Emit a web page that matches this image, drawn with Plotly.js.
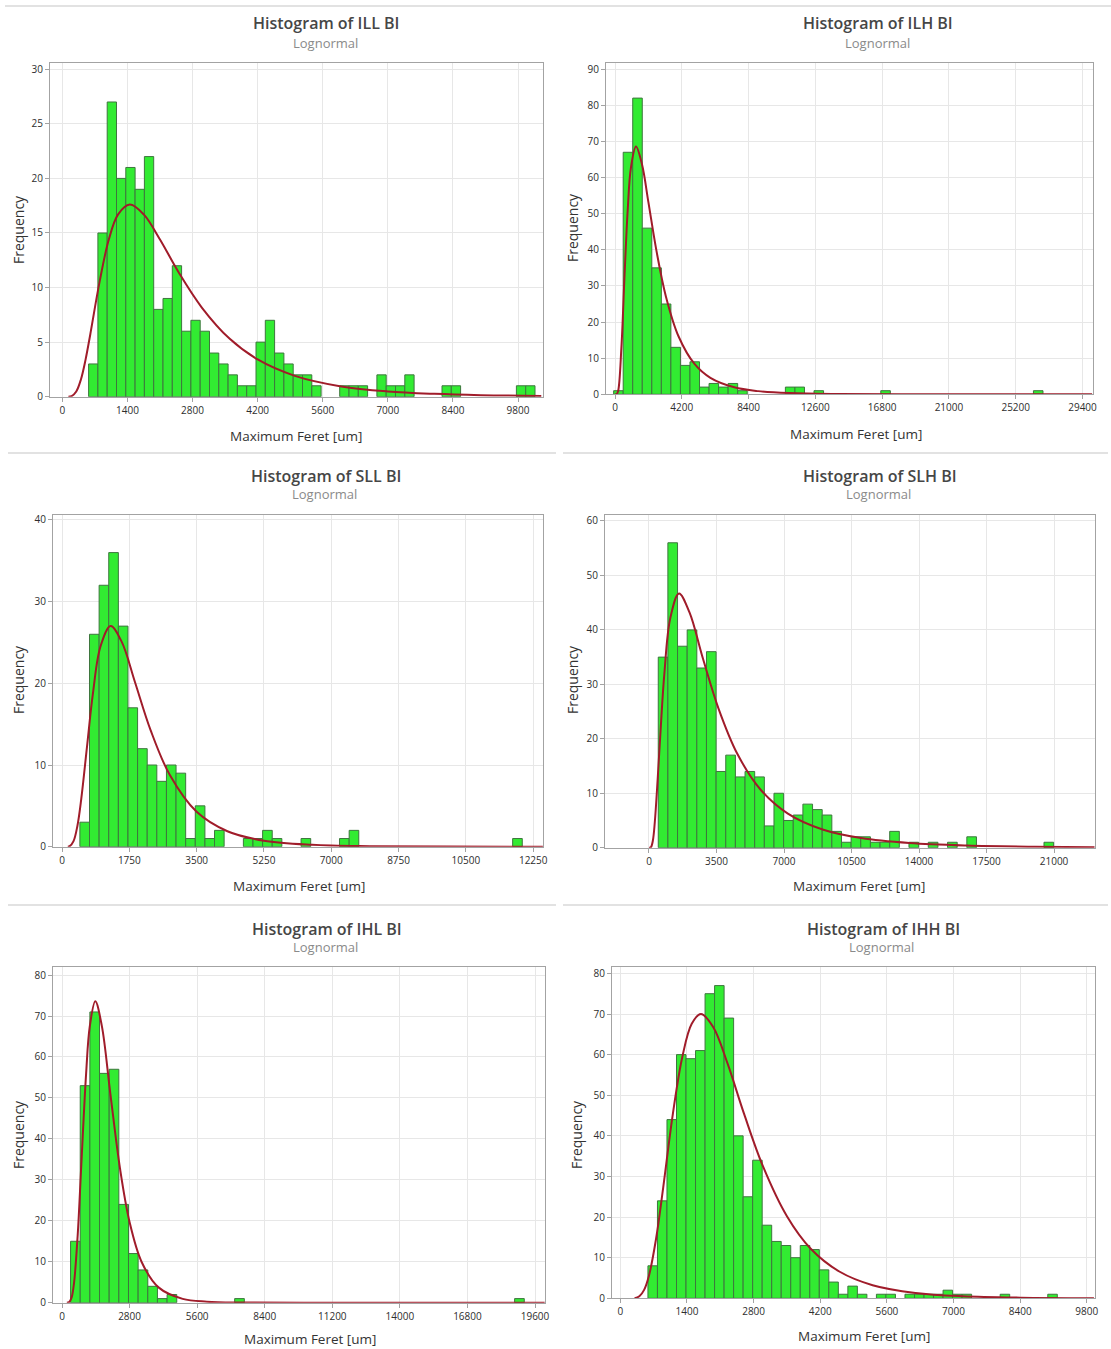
<!DOCTYPE html>
<html>
<head>
<meta charset="utf-8">
<script src="https://cdn.plot.ly/plotly-3.0.1.min.js"></script>
<style>
html,body{margin:0;padding:0;background:#ffffff;}
#chart{width:1111px;height:1349px;}
</style>
</head>
<body>
<div id="chart"></div>
<script>
// ---------------- DATA ----------------
const panelTitles = ["Histogram of ILL BI", "Histogram of ILH BI", "Histogram of SLL BI",
                     "Histogram of SLH BI", "Histogram of IHL BI", "Histogram of IHH BI"];
const subtitleText = "Lognormal";
const xAxisLabel = "Maximum Feret [um]";
const yAxisLabel = "Frequency";

// ILL BI
const illBinStart = 565, illBinWidth = 200;
const illCounts = [3,15,27,20,21,19,22,8,9,12,6,7,6,4,3,2,1,1,5,7,4,3,2,2,1,0,0,1,1,1,0,2,1,1,2,0,0,0,1,1,0,0,0,0,0,0,1,1];
const illCurveX = [130,200,300,400,500,600,800,1000,1200,1450,1750,2100,2500,3000,3600,4200,5000,6000,7000,8000,9000,10300];
const illCurveY = [0,0.06,0.48,1.58,3.4,5.68,10.5,14.4,16.7,17.6,16.7,14.4,11.4,8.17,5.3,3.41,1.91,0.94,0.48,0.26,0.14,0.07];
const illXTicks = [0,1400,2800,4200,5600,7000,8400,9800];
const illYTicks = [0,5,10,15,20,25,30];

// ILH BI
const ilhBinStart = -85, ilhBinWidth = 600;
const ilhCounts = [1,67,82,46,35,25,13,8,9,2,3,2,3,1,0,0,0,0,2,2,0,1,0,0,0,0,0,0,1,0,0,0,0,0,0,0,0,0,0,0,0,0,0,0,1];
const ilhCurveX = [0,100,200,400,600,800,1000,1320,1700,2100,2600,3200,4000,5000,6000,7500,9000,11000,14000,18000,24000,30000];
const ilhCurveY = [0,0.03,1.0,12.7,32.9,51.1,62.7,68.6,63.6,53.2,39.9,27.1,16.0,8.4,4.55,1.93,0.88,0.34,0.09,0.02,0,0];
const ilhXTicks = [0,4200,8400,12600,16800,21000,25200,29400];
const ilhYTicks = [0,10,20,30,40,50,60,70,80,90];

// SLL BI
const sllBinStart = 465, sllBinWidth = 250;
const sllCounts = [3,26,32,36,27,17,12,10,8,10,9,1,5,1,2,0,0,1,1,2,1,0,0,1,0,0,0,1,2,0,0,0,0,0,0,0,0,0,0,0,0,0,0,0,0,1];
const sllCurveX = [150,200,300,400,500,650,800,1000,1265,1550,1900,2300,2800,3500,4300,5250,6500,8000,10000,12500];
const sllCurveY = [0,0.06,0.68,2.54,5.83,12.25,18.6,24.5,27.0,25.1,20.1,14.3,8.8,4.27,1.89,0.73,0.23,0.06,0.01,0];
const sllXTicks = [0,1750,3500,5250,7000,8750,10500,12250];
const sllYTicks = [0,10,20,30,40];

// SLH BI
const slhBinStart = 480, slhBinWidth = 500;
const slhCounts = [35,56,37,40,33,36,14,17,13,14,13,4,10,5,6,8,7,6,3,1,2,2,1,1,3,0,1,0,1,0,1,0,2,0,0,0,0,0,0,0,1];
const slhCurveX = [0,100,200,300,450,600,800,1100,1555,2100,2800,3600,4600,5800,7200,9000,11000,13500,16500,20000,23100];
const slhCurveY = [0,0.08,1.28,4.63,12.6,21.5,32.1,42.1,46.7,43.2,34.7,25.6,17.1,10.6,6.27,3.35,1.77,0.86,0.4,0.18,0.09];
const slhXTicks = [0,3500,7000,10500,14000,17500,21000];
const slhYTicks = [0,10,20,30,40,50,60];

// IHL BI
const ihlBinStart = 355, ihlBinWidth = 400;
const ihlCounts = [15,53,71,56,57,24,12,8,4,1,2,0,0,0,0,0,0,1,0,0,0,0,0,0,0,0,0,0,0,0,0,0,0,0,0,0,0,0,0,0,0,0,0,0,0,0,1];
const ihlCurveX = [200,300,400,500,650,800,1000,1150,1380,1650,2000,2400,2800,3300,4000,5000,6000,7500,10000,20000];
const ihlCurveY = [0,0.16,1.3,4.89,16.5,33.7,56,67.4,73.6,67.6,51.2,32.9,19.7,9.95,3.74,0.94,0.25,0.04,0,0];
const ihlXTicks = [0,2800,5600,8400,11200,14000,16800,19600];
const ihlYTicks = [0,10,20,30,40,50,60,70,80];

// IHH BI
const ihhBinStart = 580, ihhBinWidth = 200;
const ihhCounts = [8,24,44,60,59,61,75,77,69,40,25,34,18,14,13,10,13,12,7,4,1,3,1,0,1,1,0,1,1,1,1,2,1,1,0,0,0,1,0,0,0,0,1];
const ihhCurveX = [300,400,500,600,750,900,1100,1300,1500,1694,1950,2250,2600,3000,3500,4000,4600,5300,6200,7200,8400,9950];
const ihhCurveY = [0,0.51,2.08,5.49,14.6,27.2,45.1,59.3,67.6,70,66.8,57.9,45.4,32.4,20.2,12.2,6.6,3.23,1.31,0.5,0.16,0.04];
const ihhXTicks = [0,1400,2800,4200,5600,7000,8400,9800];
const ihhYTicks = [0,10,20,30,40,50,60,70,80];

// ---------------- LAYOUT CONFIG ----------------
const W = 1111, H = 1349;
const FONT = "Open Sans, Noto Sans, sans-serif";

const panels = [
  {start: illBinStart, width: illBinWidth, counts: illCounts, cx: illCurveX, cy: illCurveY, xt: illXTicks, yt: illYTicks,
   xr: [-265, 10337], yr: [0, 30.6], px: [50, 543], py: [62.7, 396.7],
   title: [326, 23], sub: [326, 43], xlab: [296, 436], ylab: [18, 230]},
  {start: ilhBinStart, width: ilhBinWidth, counts: ilhCounts, cx: ilhCurveX, cy: ilhCurveY, xt: ilhXTicks, yt: ilhYTicks,
   xr: [-566, 30060], yr: [0, 91.8], px: [606, 1093], py: [62.7, 394.3],
   title: [878, 23], sub: [877, 43], xlab: [856, 434], ylab: [572, 228]},
  {start: sllBinStart, width: sllBinWidth, counts: sllCounts, cx: sllCurveX, cy: sllCurveY, xt: sllXTicks, yt: sllYTicks,
   xr: [-234, 12504], yr: [0, 40.6], px: [53, 543], py: [515, 846.7],
   title: [326, 476], sub: [324, 494], xlab: [299, 886], ylab: [18, 680]},
  {start: slhBinStart, width: slhBinWidth, counts: slhCounts, cx: slhCurveX, cy: slhCurveY, xt: slhXTicks, yt: slhYTicks,
   xr: [-2281, 23125], yr: [0, 61.1], px: [605, 1095], py: [515, 847.7],
   title: [880, 476], sub: [878, 494], xlab: [859, 886], ylab: [572, 680]},
  {start: ihlBinStart, width: ihlBinWidth, counts: ihlCounts, cx: ihlCurveX, cy: ihlCurveY, xt: ihlXTicks, yt: ihlYTicks,
   xr: [-373, 20014], yr: [0, 81.9], px: [53, 545], py: [967.3, 1302.7],
   title: [327, 929], sub: [325, 947], xlab: [310, 1339], ylab: [18, 1135]},
  {start: ihhBinStart, width: ihhBinWidth, counts: ihhCounts, cx: ihhCurveX, cy: ihhCurveY, xt: ihhXTicks, yt: ihhYTicks,
   xr: [-175, 9972], yr: [0, 81.5], px: [612, 1095], py: [967.3, 1298.3],
   title: [883, 929], sub: [881, 947], xlab: [864, 1336], ylab: [576, 1135]}
];

const traces = [];
const layout = {
  width: W, height: H,
  margin: {l: 0, r: 0, t: 0, b: 0},
  paper_bgcolor: "#ffffff",
  plot_bgcolor: "#ffffff",
  showlegend: false,
  bargap: 0,
  font: {family: FONT, color: "#333333"},
  annotations: [],
  shapes: []
};

function fx(p) { return p / W; }
function fy(p) { return 1 - p / H; }

panels.forEach((p, i) => {
  const n = i === 0 ? "" : String(i + 1);
  const xa = "x" + n, ya = "y" + n;
  traces.push({
    type: "bar",
    xaxis: xa, yaxis: ya,
    x0: p.start + p.width / 2, dx: p.width,
    y: p.counts.map(c => (c === 0 ? null : c)),
    width: p.width,
    marker: {color: "rgb(50,235,50)", line: {color: "rgb(62,118,62)", width: 1}},
    hoverinfo: "skip"
  });
  traces.push({
    type: "scatter", mode: "lines",
    xaxis: xa, yaxis: ya,
    x: p.cx, y: p.cy,
    line: {color: "rgb(160,28,42)", width: 2, shape: "spline", smoothing: 1},
    hoverinfo: "skip"
  });
  const common = {
    showline: true, mirror: true, linecolor: "#a3a3a3", linewidth: 1,
    showgrid: true, gridcolor: "#e7e7e7", gridwidth: 1, zeroline: false,
    ticks: "outside", ticklen: 4, tickcolor: "#a3a3a3",
    tickfont: {family: FONT, size: 10, color: "#2e2e2e"},
    tickmode: "array", fixedrange: true
  };
  layout["xaxis" + n] = Object.assign({}, common, {
    domain: [fx(p.px[0]), fx(p.px[1])], anchor: ya, range: p.xr,
    tickvals: p.xt, ticktext: p.xt.map(String)
  });
  layout["yaxis" + n] = Object.assign({}, common, {
    domain: [fy(p.py[1]), fy(p.py[0])], anchor: xa, range: p.yr,
    tickvals: p.yt, ticktext: p.yt.map(String)
  });
  layout.annotations.push(
    {text: panelTitles[i], xref: "paper", yref: "paper", x: fx(p.title[0]), y: fy(p.title[1]),
     xanchor: "center", yanchor: "middle", showarrow: false,
     font: {family: FONT, size: 16, color: "#464646", weight: 600}},
    {text: subtitleText, xref: "paper", yref: "paper", x: fx(p.sub[0]), y: fy(p.sub[1]),
     xanchor: "center", yanchor: "middle", showarrow: false,
     font: {family: FONT, size: 13, color: "#8a8a8a"}},
    {text: xAxisLabel, xref: "paper", yref: "paper", x: fx(p.xlab[0]), y: fy(p.xlab[1]),
     xanchor: "center", yanchor: "middle", showarrow: false,
     font: {family: FONT, size: 13.5, color: "#333333"}},
    {text: yAxisLabel, xref: "paper", yref: "paper", x: fx(p.ylab[0]), y: fy(p.ylab[1]),
     xanchor: "center", yanchor: "middle", showarrow: false, textangle: -90,
     font: {family: FONT, size: 14, color: "#333333"}}
  );
});

// separators between panel rows
const sepLines = [
  [5, 1111, 6], [8, 556, 453], [563, 1108, 453], [8, 556, 905], [563, 1108, 905]
];
sepLines.forEach(s => {
  layout.shapes.push({type: "line", xref: "paper", yref: "paper",
    x0: fx(s[0]), x1: fx(s[1]), y0: fy(s[2]), y1: fy(s[2]),
    line: {color: "#e2e2e2", width: 2}});
});

Plotly.newPlot("chart", traces, layout, {staticPlot: true, displayModeBar: false});
</script>
</body>
</html>
